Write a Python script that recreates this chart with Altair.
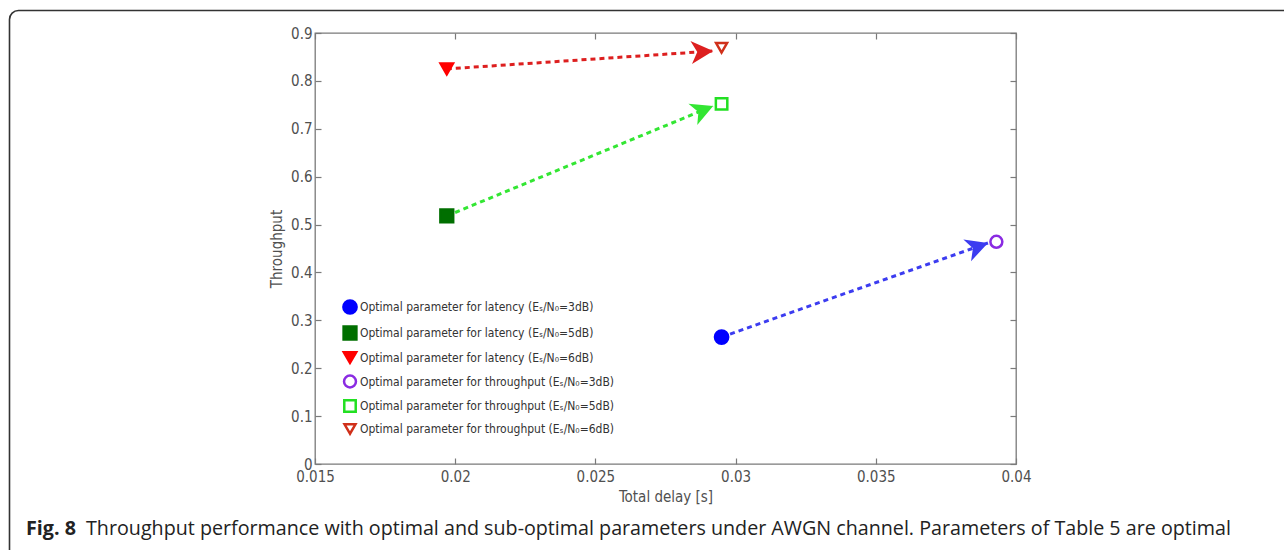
import math
import altair as alt
import pandas as pd

# ---------------- data ----------------
snr = ["3dB", "5dB", "6dB"]
latency_x = [0.0295, 0.0197, 0.0197]      # optimal parameter for latency (filled markers)
latency_y = [0.265, 0.518, 0.825]
throughput_x = [0.0393, 0.0295, 0.0295]   # optimal parameter for throughput (open markers)
throughput_y = [0.464, 0.752, 0.869]
arrow_tip_x = [0.0390, 0.0292, 0.0292]    # where each dotted arrow ends
arrow_tip_y = [0.4615, 0.7475, 0.8624]

series_labels = [
    "Optimal parameter for latency (Eₛ/N₀=3dB)",
    "Optimal parameter for latency (Eₛ/N₀=5dB)",
    "Optimal parameter for latency (Eₛ/N₀=6dB)",
    "Optimal parameter for throughput (Eₛ/N₀=3dB)",
    "Optimal parameter for throughput (Eₛ/N₀=5dB)",
    "Optimal parameter for throughput (Eₛ/N₀=6dB)",
]
x_ticks = [0.015, 0.02, 0.025, 0.03, 0.035, 0.04]
y_ticks = [0, 0.1, 0.2, 0.3, 0.4, 0.5, 0.6, 0.7, 0.8, 0.9]
x_title = "Total delay [s]"
y_title = "Throughput"
caption_bold = "Fig. 8"
caption_rest = ("Throughput performance with optimal and sub-optimal parameters under AWGN "
                "channel. Parameters of Table 5 are optimal")

# ---------------- styles ----------------
W, H = 701, 431
X_DOM = [0.015, 0.04]
Y_DOM = [0, 0.9]
FONT = "DejaVu Sans Condensed, Liberation Sans, Arial, sans-serif"
CAP_FONT = "Open Sans"
AX_COL = "#505050"
BOX_COL = "#7a7a7a"

stroke_range = ["#0000ff", "#006f00", "#ff0000", "#8a2be2", "#22e022", "#d0301a"]
fill_range = ["#0000ff", "#006f00", "#ff0000", "transparent", "transparent", "transparent"]
shape_range = ["circle", "square", "triangle-down", "circle", "square", "triangle-down"]
size_range = [175, 120, 210, 120, 110, 170]
arrow_colors = ["#3c3cf0", "#33e633", "#dd1f1f"]
ARROW_PATH = "M0,0 L-2,-1.05 L-1.45,0 L-2,1.05 Z"

# ---------------- tables ----------------
pts = pd.DataFrame({
    "series": series_labels,
    "x": latency_x + throughput_x,
    "y": latency_y + throughput_y,
})

sx = W / (X_DOM[1] - X_DOM[0])
sy = H / (Y_DOM[1] - Y_DOM[0])
angles = []
for x0, y0, x1, y1 in zip(latency_x, latency_y, arrow_tip_x, arrow_tip_y):
    a = math.degrees(math.atan2(-(y1 - y0) * sy, (x1 - x0) * sx)) % 360
    angles.append(a)

arr = pd.DataFrame({
    "snr": snr,
    "x0": latency_x, "y0": latency_y,
    "x1": arrow_tip_x, "y1": arrow_tip_y,
    "angle": angles,
})

xscale = alt.Scale(domain=X_DOM, nice=False, zero=False)
yscale = alt.Scale(domain=Y_DOM, nice=False, zero=False)
arrow_scale = alt.Scale(domain=snr, range=arrow_colors)

tick_style = dict(labels=False, domain=False, grid=False, ticks=True, tickSize=6,
                  offset=-6, tickColor=BOX_COL, tickWidth=1.2, title=None)

# ---------------- layers ----------------
one = alt.Data(values=[{}])

frame = alt.Chart(one).mark_rect(
    fill="transparent", stroke="#333333", strokeWidth=1.6, cornerRadius=9
).encode(
    x=alt.value(-305.5), x2=alt.value(990), y=alt.value(-22.5), y2=alt.value(620)
)

rules = alt.Chart(arr).mark_rule(strokeWidth=3, strokeDash=[5, 4]).encode(
    x=alt.X("x0:Q", scale=xscale, axis=alt.Axis(orient="bottom", values=x_ticks, **tick_style)),
    y=alt.Y("y0:Q", scale=yscale, axis=alt.Axis(orient="left", values=y_ticks, **tick_style)),
    x2="x1:Q",
    y2="y1:Q",
    color=alt.Color("snr:N", scale=arrow_scale, legend=None),
)

heads = alt.Chart(arr).mark_point(
    shape=ARROW_PATH, filled=True, size=484, opacity=1, strokeWidth=0
).encode(
    x=alt.X("x1:Q", scale=xscale, axis=alt.Axis(orient="top", values=x_ticks, **tick_style)),
    y=alt.Y("y1:Q", scale=yscale, axis=alt.Axis(orient="right", values=y_ticks, **tick_style)),
    angle=alt.Angle("angle:Q", scale=None),
    color=alt.Color("snr:N", scale=arrow_scale, legend=None),
)

leg = alt.Legend(
    title=None, orient="none", legendX=27, legendY=266,
    labelFont=FONT, labelFontSize=12, labelColor="#333333", labelLimit=400,
    labelOffset=2, rowPadding=2, symbolStrokeWidth=2.5, padding=0,
)

markers = alt.Chart(pts).mark_point(strokeWidth=2.5, opacity=1, fillOpacity=1).encode(
    x=alt.X("x:Q", scale=xscale, axis=alt.Axis(
        orient="bottom", values=x_ticks, format="~g", ticks=False, domain=False, grid=False,
        labelFont=FONT, labelFontSize=15, labelColor=AX_COL, labelPadding=5, labelFlush=False,
        title=x_title, titleFont=FONT, titleFontSize=15, titleFontWeight="normal",
        titleColor=AX_COL, titlePadding=5)),
    y=alt.Y("y:Q", scale=yscale, axis=alt.Axis(
        orient="left", values=y_ticks, format="~g", ticks=False, domain=False, grid=False,
        labelFont=FONT, labelFontSize=15, labelColor=AX_COL, labelPadding=3, labelFlush=False,
        title=y_title, titleFont=FONT, titleFontSize=15, titleFontWeight="normal",
        titleColor=AX_COL, titlePadding=6)),
    stroke=alt.Stroke("series:N", scale=alt.Scale(domain=series_labels, range=stroke_range), legend=leg),
    fill=alt.Fill("series:N", scale=alt.Scale(domain=series_labels, range=fill_range), legend=leg),
    shape=alt.Shape("series:N", scale=alt.Scale(domain=series_labels, range=shape_range), legend=leg),
    size=alt.Size("series:N", scale=alt.Scale(domain=series_labels, range=size_range), legend=leg),
)

cap1 = alt.Chart(one).mark_text(
    text=caption_bold, font=CAP_FONT, fontSize=19.7, fontWeight="bold", align="left",
    baseline="alphabetic", color="#222222"
).encode(x=alt.value(-289), y=alt.value(502))

cap2 = alt.Chart(one).mark_text(
    text=caption_rest, font=CAP_FONT, fontSize=19.7, align="left",
    baseline="alphabetic", color="#222222"
).encode(x=alt.value(-229), y=alt.value(502))

chart = alt.layer(frame, rules, heads, markers, cap1, cap2).resolve_axis(
    x="independent", y="independent"
).properties(
    width=W, height=H,
    autosize=alt.AutoSizeParams(type="none"),
    padding={"left": 315, "top": 33, "right": 268, "bottom": 86},
    background="white",
).configure_view(stroke=BOX_COL, strokeWidth=1.3)

chart.save("out.html", embed_options={"renderer": "svg", "actions": False})
